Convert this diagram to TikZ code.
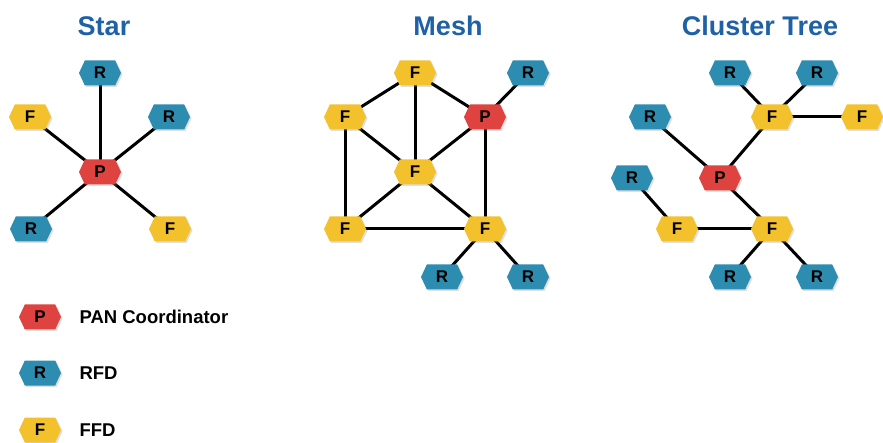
\documentclass[tikz,border=0pt]{standalone}
\usepackage{fontspec}
\setmainfont{Liberation Sans}
\usepackage{xcolor}
\usetikzlibrary{shapes.symbols,shadows,backgrounds}
\definecolor{pancol}{HTML}{DF4340}
\definecolor{rfdcol}{HTML}{2C8DB0}
\definecolor{ffdcol}{HTML}{F3C12C}
\definecolor{titlecol}{HTML}{1E61A6}
\tikzstyle{dev}=[signal, signal to=east and west, signal pointer angle=130,
  minimum width=42pt, minimum height=25pt, inner sep=0pt,
  font=\bfseries\fontsize{17}{17}\selectfont,
  drop shadow={shadow xshift=1.5pt, shadow yshift=-1.5pt, opacity=0.25}]
\tikzstyle{pan}=[dev, fill=pancol]
\tikzstyle{rfd}=[dev, fill=rfdcol]
\tikzstyle{ffd}=[dev, fill=ffdcol]
\tikzstyle{link}=[line width=3pt, black]
\tikzstyle{title}=[font=\bfseries\fontsize{27}{27}\selectfont, text=titlecol]
\tikzstyle{legtext}=[anchor=west, font=\bfseries\fontsize{18.5}{18.5}\selectfont]

\begin{document}
\begin{tikzpicture}[x=1pt, y=-1pt]
\useasboundingbox (0,0) rectangle (883,443);

% Star
\node (tstar) [title] at (104,26) {Star};
\node (sp) [pan] at (100,172) {P};
\node (sr1) [rfd] at (100,73) {R};
\node (sf1) [ffd] at (30,117) {F};
\node (sr2) [rfd] at (169,117) {R};
\node (sr3) [rfd] at (31,229) {R};
\node (sf2) [ffd] at (170,229) {F};

% Mesh
\node (tmesh) [title] at (448,26) {Mesh};
\node (mft) [ffd] at (415,73) {F};
\node (mrt) [rfd] at (528,73) {R};
\node (mfl) [ffd] at (345,117) {F};
\node (mp) [pan] at (485,117) {P};
\node (mfc) [ffd] at (415,172) {F};
\node (mfbl) [ffd] at (345,229) {F};
\node (mfbr) [ffd] at (485,229) {F};
\node (mrb1) [rfd] at (442,277) {R};
\node (mrb2) [rfd] at (528,277) {R};

% Cluster Tree
\node (ttree) [title] at (760,26) {Cluster Tree};
\node (cp) [pan] at (720,178) {P};
\node (crt1) [rfd] at (730,73) {R};
\node (crt2) [rfd] at (817,73) {R};
\node (cfu) [ffd] at (772,117) {F};
\node (cfr) [ffd] at (862,117) {F};
\node (crl) [rfd] at (650,117) {R};
\node (crfl) [rfd] at (632,178) {R};
\node (cfll) [ffd] at (677,229) {F};
\node (cfl) [ffd] at (772,229) {F};
\node (crb1) [rfd] at (730,277) {R};
\node (crb2) [rfd] at (817,277) {R};

% legend
\node (lp) [pan] at (40,317) {P};
\node (lr) [rfd] at (40,373) {R};
\node (lf) [ffd] at (40,430) {F};
\node (lpt) [legtext] at (76,317) {PAN Coordinator};
\node (lrt) [legtext] at (76,373) {RFD};
\node (lft) [legtext] at (76,430) {FFD};

\begin{scope}[on background layer]
\draw[link] (sp.center) -- (sr1.center);
\draw[link] (sp.center) -- (sf1.center);
\draw[link] (sp.center) -- (sr2.center);
\draw[link] (sp.center) -- (sr3.center);
\draw[link] (sp.center) -- (sf2.center);

\draw[link] (mft.center) -- (mfl.center);
\draw[link] (mft.center) -- (mfc.center);
\draw[link] (mft.center) -- (mp.center);
\draw[link] (mp.center) -- (mrt.center);
\draw[link] (mfl.center) -- (mfc.center);
\draw[link] (mfl.center) -- (mfbl.center);
\draw[link] (mp.center) -- (mfc.center);
\draw[link] (mp.center) -- (mfbr.center);
\draw[link] (mfc.center) -- (mfbl.center);
\draw[link] (mfc.center) -- (mfbr.center);
\draw[link] (mfbl.center) -- (mfbr.center);
\draw[link] (mfbr.center) -- (mrb1.center);
\draw[link] (mfbr.center) -- (mrb2.center);

\draw[link] (crt1.center) -- (cfu.center);
\draw[link] (crt2.center) -- (cfu.center);
\draw[link] (cfu.center) -- (cfr.center);
\draw[link] (cfu.center) -- (cp.center);
\draw[link] (crl.center) -- (cp.center);
\draw[link] (cp.center) -- (cfl.center);
\draw[link] (crfl.center) -- (cfll.center);
\draw[link] (cfll.center) -- (cfl.center);
\draw[link] (cfl.center) -- (crb1.center);
\draw[link] (cfl.center) -- (crb2.center);
\end{scope}
\end{tikzpicture}
\end{document}
